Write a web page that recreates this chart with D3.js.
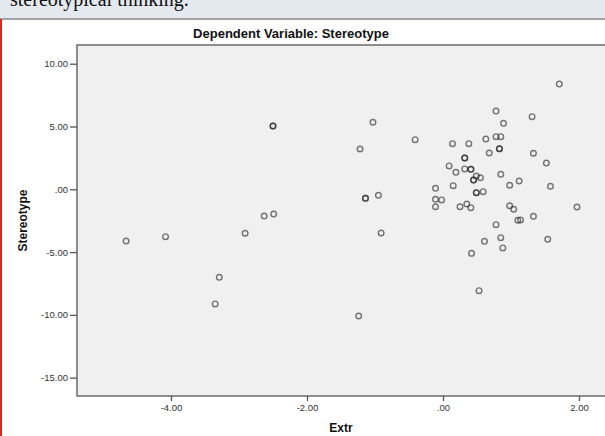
<!DOCTYPE html>
<html>
<head>
<meta charset="utf-8">
<script src="https://cdn.jsdelivr.net/npm/d3@7"></script>
<style>
html,body{margin:0;padding:0;background:#fff;overflow:hidden;}
svg{display:block;}
</style>
</head>
<body>
<svg id="chart" width="605" height="436"></svg>
<script>
// Data (Extr, Stereotype); duplicates appear as darker rings
const extr = [-4.66,-4.08,-2.91,-3.29,-3.35,-2.50,-2.50,-2.63,-2.49,
  -1.03,-1.22,-0.41,-1.14,-1.14,-0.95,-0.91,-1.24,
  0.14,0.38,0.32,0.32,0.09,0.19,0.32,0.41,0.41,0.49,0.45,0.45,0.15,-0.11,0.49,0.49,
  -0.11,-0.02,-0.11,0.25,0.35,0.41,0.42,0.53,
  1.71,0.78,1.31,0.89,0.63,0.78,0.85,0.83,0.83,0.68,1.33,1.52,0.55,0.85,0.98,1.12,1.58,
  0.59,0.98,1.04,1.97,1.10,1.14,1.33,0.78,0.61,0.85,0.88,1.54];
const stereotype = [-4.12,-3.77,-3.50,-7.01,-9.13,5.04,5.04,-2.13,-1.97,
  5.33,3.21,3.95,-0.72,-0.72,-0.48,-3.48,-10.09,
  3.63,3.63,2.49,2.49,1.86,1.35,1.62,1.59,1.59,1.06,0.74,0.74,0.29,0.08,-0.27,-0.27,
  -0.80,-0.85,-1.39,-1.39,-1.17,-1.46,-5.10,-8.07,
  8.38,6.23,5.78,5.25,4.00,4.19,4.19,3.23,3.23,2.89,2.87,2.09,0.92,1.19,0.32,0.66,0.24,
  -0.19,-1.31,-1.59,-1.41,-2.47,-2.44,-2.15,-2.82,-4.14,-3.85,-4.67,-3.98];
const xTicks = [-4, -2, 0, 2];
const yTicks = [10, 5, 0, -5, -10, -15];
const fmt = v => v === 0 ? ".00" : v.toFixed(2);

(function () {
const svg = d3.select("#chart");
const W = 605, H = 436;

// Page header remnants
svg.append("rect").attr("x",0).attr("y",0).attr("width",W).attr("height",18).attr("fill","#e4e9ef");
svg.append("text").attr("x",10).attr("y",6)
  .attr("font-family","'Liberation Serif', 'Times New Roman', serif").attr("font-size",20)
  .attr("fill","#111").text("stereotypical thinking.");
svg.append("rect").attr("x",0).attr("y",18).attr("width",W).attr("height",2).attr("fill","#a3a3a3");
svg.append("rect").attr("x",0).attr("y",19).attr("width",2).attr("height",H-19).attr("fill","#e3241b");

// Plot geometry
const pL = 77, pR = 606, pT = 45, pB = 396;
const x = d3.scaleLinear().domain([-5.382, 2.397]).range([pL, pR]);
const y = d3.scaleLinear().domain([-16.46, 11.49]).range([pB, pT]);

svg.append("rect").attr("x",pL).attr("y",pT).attr("width",pR-pL).attr("height",pB-pT)
  .attr("fill","#f0f0f0").attr("stroke","#6a6a6a").attr("stroke-width",1.5);

const font = "'Liberation Sans', Arial, sans-serif";

// Axes
const xAxis = d3.axisBottom(x).tickValues(xTicks).tickFormat(fmt).tickSize(5).tickPadding(3);
const gx = svg.append("g").attr("transform",`translate(0,${pB})`).call(xAxis);
const yAxis = d3.axisLeft(y).tickValues(yTicks).tickFormat(fmt).tickSize(7).tickPadding(2);
const gy = svg.append("g").attr("transform",`translate(${pL},0)`).call(yAxis);
[gx, gy].forEach(g => {
  g.select(".domain").remove();
  g.selectAll(".tick line").attr("stroke","#555").attr("stroke-width",1.3);
  g.selectAll(".tick text").attr("font-family",font).attr("font-size",9.5).attr("fill","#333");
});

// Points
svg.append("g").selectAll("circle").data(extr.map((e,i)=>[e, stereotype[i]])).join("circle")
  .attr("cx", d => x(d[0])).attr("cy", d => y(d[1])).attr("r", 2.8)
  .attr("fill","none").attr("stroke","#222").attr("stroke-opacity",0.6).attr("stroke-width",1.4);

// Titles
svg.append("text").attr("x",291).attr("y",38).attr("text-anchor","middle")
  .attr("font-family",font).attr("font-weight","bold").attr("font-size",13).attr("fill","#111")
  .text("Dependent Variable: Stereotype");
svg.append("text").attr("x",(pL+W)/2).attr("y",432).attr("text-anchor","middle")
  .attr("font-family",font).attr("font-weight","bold").attr("font-size",12).attr("fill","#111")
  .text("Extr");
svg.append("text").attr("transform",`translate(27,${(pT+pB)/2}) rotate(-90)`).attr("text-anchor","middle")
  .attr("font-family",font).attr("font-weight","bold").attr("font-size",12).attr("fill","#111")
  .text("Stereotype");
})();
</script>
</body>
</html>
